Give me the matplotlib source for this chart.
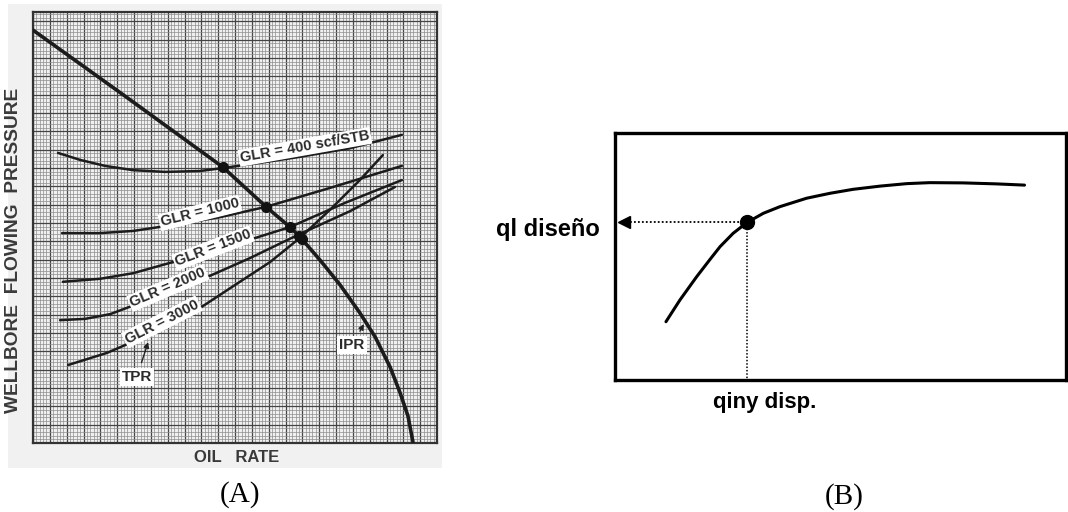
import numpy as np
import matplotlib
matplotlib.use("Agg")
import matplotlib.pyplot as plt
from matplotlib.ticker import MultipleLocator

# ---------------- data (panel A) ----------------
ipr_x = [0, 23.5, 47.0, 57.7, 63.6, 66.1, 71.0, 76.0, 80.9, 84.7, 88.4, 90.8, 92.8, 94.1]
ipr_y = [95.8, 80.0, 64.0, 54.8, 50.1, 47.8, 42.5, 36.7, 30.2, 24.6, 17.6, 11.8, 6.3, 0]

glr400_x = [6.2, 11.6, 17.8, 24.8, 32.7, 41.3, 47.0, 56.2, 66.1, 78.5, 91.3]
glr400_y = [67.3, 65.7, 64.3, 63.3, 62.9, 63.1, 63.8, 65.0, 66.4, 68.4, 71.5]

glr1000_x = [7.2, 16.6, 24.8, 34.7, 46.3, 57.7, 74.3, 91.3]
glr1000_y = [48.7, 48.7, 49.2, 50.6, 52.4, 54.8, 59.4, 64.3]

glr1500_x = [7.4, 16.6, 24.8, 34.7, 48.0, 63.6, 77.2, 91.3]
glr1500_y = [37.4, 38.1, 39.4, 42.0, 45.5, 50.1, 55.7, 61.0]

glr2000_x = [6.7, 12.9, 19.1, 26.5, 35.1, 43.1, 53.7, 65.6, 78.5, 89.6]
glr2000_y = [28.5, 28.8, 29.9, 32.5, 35.5, 38.5, 42.9, 48.3, 53.8, 59.4]

glr3000_x = [8.7, 18.3, 29.7, 41.3, 51.2, 58.7, 66.1, 73.5, 80.9, 86.6]
glr3000_y = [18.1, 20.9, 25.5, 31.3, 37.4, 42.0, 47.6, 54.1, 61.0, 66.8]

op_x = [47.0, 57.7, 63.6, 65.8, 66.6]
op_y = [64.0, 54.8, 50.1, 48.1, 47.3]

glr_labels = ["GLR = 400 scf/STB", "GLR = 1000", "GLR = 1500", "GLR = 2000", "GLR = 3000"]
label_x = [67.3, 41.3, 44.6, 33.4, 31.9]
label_y = [68.7, 53.4, 45.2, 36.0, 28.1]
label_rot = [10, 14, 21, 23, 27]

# ---------------- data (panel B) ----------------
curve_x = [11.3, 14.4, 18.1, 21.1, 23.3, 26.2, 29.3, 32.9, 36.6, 42.5, 47.7, 52.8,
           58.8, 64.7, 69.8, 77.2, 84.6, 90.8]
curve_y = [23.6, 32.4, 41.8, 48.9, 54.0, 59.4, 63.8, 67.5, 70.2, 73.6, 75.6, 77.2,
           78.5, 79.5, 79.9, 79.8, 79.4, 78.9]
design_x = 29.3
design_y = 63.8

W, H = 1068, 512
fig = plt.figure(figsize=(W / 100, H / 100), dpi=100)
fig.patch.set_facecolor("white")

# scanned paper background
bg = fig.add_axes([8 / W, 1 - 468 / H, 434 / W, 464 / H], zorder=-5)
bg.set_facecolor("#f1f1f1")
bg.set_xticks([])
bg.set_yticks([])
for s in bg.spines.values():
    s.set_visible(False)

# ---------------- panel A ----------------
axA = fig.add_axes([33 / W, 1 - 443 / H, 404 / W, 431 / H], zorder=1)
axA.set_facecolor("#f0f0f0")
axA.set_xlim(0, 100)
axA.set_ylim(0, 100)
maj_x = 100 / 24
maj_y = 100 / 23.5
axA.xaxis.set_major_locator(MultipleLocator(maj_x))
axA.xaxis.set_minor_locator(MultipleLocator(maj_x / 5))
axA.yaxis.set_major_locator(MultipleLocator(maj_y))
axA.yaxis.set_minor_locator(MultipleLocator(maj_y / 5))
axA.grid(which="minor", color="#8e8e8e", linewidth=0.5)
axA.grid(which="major", color="#444444", linewidth=0.9)
axA.set_axisbelow(True)
axA.tick_params(which="both", length=0, labelbottom=False, labelleft=False)
for s in axA.spines.values():
    s.set_color("#333333")
    s.set_linewidth(1.6)

curve_col = "#1c1c1c"
axA.plot(ipr_x, ipr_y, color=curve_col, lw=2.6, solid_capstyle="round",
         solid_joinstyle="round", zorder=3)
for xs, ys in [(glr400_x, glr400_y), (glr1000_x, glr1000_y), (glr1500_x, glr1500_y),
               (glr2000_x, glr2000_y), (glr3000_x, glr3000_y)]:
    axA.plot(xs, ys, color=curve_col, lw=1.8, solid_capstyle="round",
             solid_joinstyle="round", zorder=3)
axA.plot(op_x, op_y, "o", color="#111111", markersize=7, zorder=4)

sans = ["Liberation Sans", "DejaVu Sans"]
for t, x, y, r in zip(glr_labels, label_x, label_y, label_rot):
    axA.text(x, y, t, rotation=r, rotation_mode="anchor", ha="center", va="center",
             fontsize=10.5, fontweight="bold", color="#2a2a2a", family=sans,
             bbox=dict(facecolor="white", edgecolor="none", pad=1.0), zorder=5)

for t, xy, xyt in [("TPR", (28.5, 23.4), (25.7, 15.3)), ("IPR", (81.9, 27.6), (79.0, 22.7))]:
    axA.annotate(t, xy=xy, xytext=xyt, ha="center", va="center",
                 fontsize=11, fontweight="bold", color="#2a2a2a", family=sans,
                 bbox=dict(facecolor="white", edgecolor="none", pad=1.5),
                 arrowprops=dict(arrowstyle="-|>", color="#222222", lw=1.0,
                                 mutation_scale=8, shrinkA=4, shrinkB=0), zorder=5)

fig.text(237 / W, 1 - 457 / H, "OIL   RATE", ha="center", va="center",
         fontsize=12, fontweight="bold", color="#3a3a3a", family=sans)
fig.text(14 / W, 1 - 250 / H, "WELLBORE  FLOWING  PRESSURE", ha="center", va="center",
         rotation=90, fontsize=13.8, fontweight="bold", color="#3a3a3a", family=sans)

fig.text(240 / W, 1 - 495 / H, "(A)", ha="center", va="center",
         fontsize=21, fontfamily="Liberation Serif", color="black")

# ---------------- panel B ----------------
axB = fig.add_axes([615 / W, 1 - 380 / H, 451 / W, 247 / H])
axB.set_xlim(0, 100)
axB.set_ylim(0, 100)
axB.set_xticks([])
axB.set_yticks([])
for s in axB.spines.values():
    s.set_linewidth(2.4)
    s.set_color("black")

axB.plot(curve_x, curve_y, color="black", lw=2.2, solid_capstyle="round",
         solid_joinstyle="round")
axB.plot([design_x, 1.5], [design_y, design_y], color="black", lw=1.3, ls=(0, (1, 1.2)))
axB.plot([design_x, design_x], [design_y, 0], color="black", lw=1.1, ls=(0, (1, 1.2)))
axB.plot([1.9], [design_y], marker="<", color="black", markersize=9, clip_on=False)
axB.plot([design_x], [design_y], "o", color="black", markersize=10)

axB.text(-3.3, 61.0, "ql diseño", ha="right", va="center", fontsize=17,
         fontweight="bold", family=sans, clip_on=False)
axB.text(33.3, -9.0, "qiny disp.", ha="center", va="center", fontsize=16,
         fontweight="bold", family=sans, clip_on=False)

fig.text(844 / W, 1 - 497 / H, "(B)", ha="center", va="center",
         fontsize=21, fontfamily="Liberation Serif", color="black")

fig.savefig("out.png", dpi=100)
